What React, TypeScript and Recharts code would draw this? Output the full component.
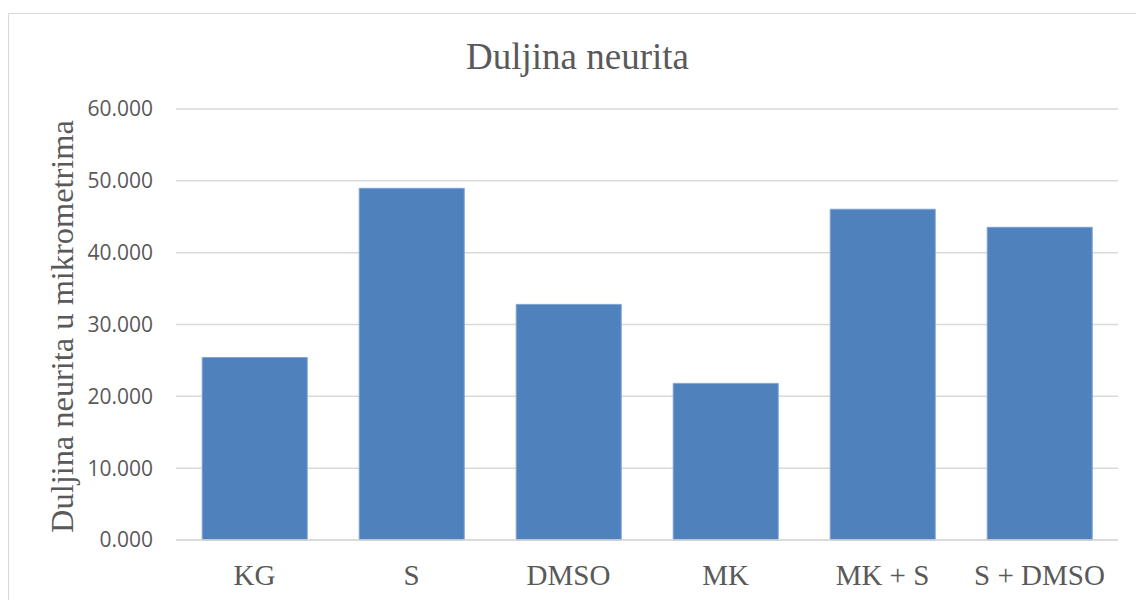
import React from "react";
import { BarChart, Bar, XAxis, YAxis, CartesianGrid } from "recharts";

const categories = ["KG", "S", "DMSO", "MK", "MK + S", "S + DMSO"];
const values = [25.4, 48.96, 32.8, 21.8, 46.04, 43.53];
const yTicks = [0, 10, 20, 30, 40, 50, 60];
const title = "Duljina neurita";
const yLabel = "Duljina neurita u mikrometrima";

const data = categories.map((c, i) => ({ name: c, value: values[i] }));

const W = 1136;
const H = 600;

export default function App() {
  return (
    <div style={{ position: "absolute", left: 0, top: 0, width: W, height: H, background: "#fff", overflow: "hidden" }}>
      <svg width={W} height={H} style={{ position: "absolute", left: 0, top: 0 }}>
        <rect x={8.5} y={13.5} width={1300} height={800} fill="#fff" stroke="#d9d9d9" strokeWidth={1} />
        <text
          x={577.5}
          y={69}
          textAnchor="middle"
          fontFamily="'Liberation Serif', 'Times New Roman', serif"
          fontSize={37}
          fill="#595959"
        >
          {title}
        </text>
      </svg>
      <div style={{ position: "absolute", left: 0, top: 0 }}>
        <BarChart
          width={W}
          height={H}
          data={data}
          margin={{ top: 109, right: 18, left: 0, bottom: 0 }}
          barCategoryGap="16.7%"
        >
          <CartesianGrid vertical={false} stroke="#d9d9d9" strokeWidth={1.5} />
          <XAxis
            dataKey="name"
            height={60}
            axisLine={{ stroke: "#d9d9d9", strokeWidth: 1.5 }}
            tickLine={false}
            tickSize={0}
            tickMargin={24}
            interval={0}
            tick={{ fill: "#595959", fontSize: 29, fontFamily: "'Liberation Serif', 'Times New Roman', serif" }}
          />
          <YAxis
            width={176}
            domain={[0, 60]}
            ticks={yTicks}
            axisLine={false}
            tickLine={false}
            tickSize={0}
            tickMargin={23}
            tickFormatter={(v: number) => v.toFixed(3)}
            tick={{ fill: "#595959", fontSize: 21, fontFamily: "'Open Sans', 'Liberation Sans', sans-serif" }}
            label={{
              content: () => (
                <text
                  x={62}
                  y={326.5}
                  transform="rotate(-90 62 326.5)"
                  textAnchor="middle"
                  dominantBaseline="central"
                  fontFamily="'Liberation Serif', 'Times New Roman', serif"
                  fontSize={32.4}
                  fill="#595959"
                >
                  {yLabel}
                </text>
              ),
            }}
          />
          <Bar dataKey="value" fill="#4f81bd" stroke="#7fa3d0" strokeWidth={1} isAnimationActive={false} />
        </BarChart>
      </div>
    </div>
  );
}
